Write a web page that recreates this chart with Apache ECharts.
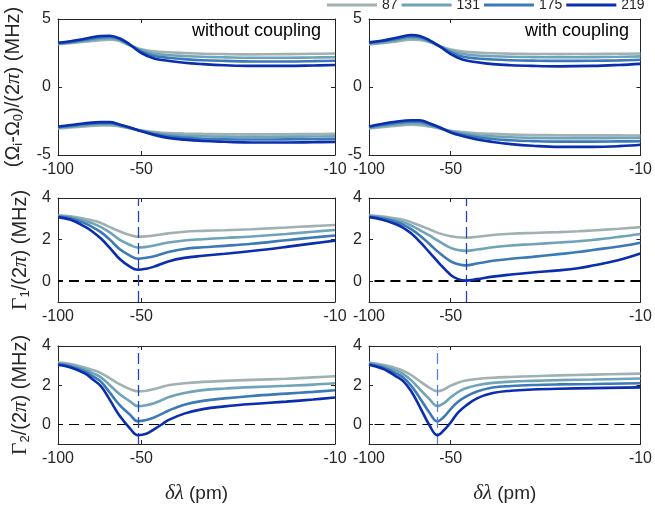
<!DOCTYPE html>
<html><head><meta charset="utf-8">
<script src="https://cdn.jsdelivr.net/npm/echarts@6/dist/echarts.min.js"></script>
<style>html,body{margin:0;padding:0;background:#fff}#c{width:655px;height:505px}</style>
</head><body><div id="c"></div>
<script>
// ---------- data ----------
const NAMES = ['87', '131', '175', '219'];
const COLORS = ['#9fb1b2', '#6ea3b9', '#3c79b7', '#0a2eae'];
const xTicks = [-100, -50, -10];

// Row 1: (Omega_i - Omega_0)/(2pi)
const dlOmega = [-100, -90, -80, -70, -65, -60, -55, -50, -45, -40, -35, -30, -25, -20, -15, -12, -10];
const upNoC_87  = [3.15, 3.22, 3.33, 3.45, 3.48, 3.38, 3.05, 2.78, 2.62, 2.55, 2.50, 2.45, 2.42, 2.40, 2.42, 2.44, 2.46];
const upNoC_131 = [3.18, 3.27, 3.40, 3.55, 3.58, 3.45, 3.08, 2.70, 2.45, 2.35, 2.28, 2.22, 2.18, 2.15, 2.15, 2.17, 2.19];
const upNoC_175 = [3.22, 3.32, 3.48, 3.65, 3.68, 3.52, 3.10, 2.60, 2.28, 2.15, 2.05, 1.97, 1.92, 1.88, 1.88, 1.90, 1.93];
const upNoC_219 = [3.25, 3.37, 3.55, 3.75, 3.77, 3.58, 3.12, 2.50, 2.10, 1.93, 1.78, 1.68, 1.60, 1.55, 1.55, 1.58, 1.62];
const loNoC_87  = [-3.05, -2.98, -2.90, -2.82, -2.82, -2.90, -3.05, -3.20, -3.30, -3.38, -3.42, -3.45, -3.47, -3.48, -3.47, -3.46, -3.45];
const loNoC_131 = [-3.00, -2.92, -2.82, -2.74, -2.74, -2.85, -3.02, -3.22, -3.38, -3.50, -3.57, -3.62, -3.65, -3.66, -3.65, -3.64, -3.63];
const loNoC_175 = [-2.95, -2.86, -2.74, -2.66, -2.66, -2.80, -3.00, -3.24, -3.45, -3.62, -3.72, -3.80, -3.84, -3.86, -3.85, -3.84, -3.83];
const loNoC_219 = [-2.90, -2.80, -2.67, -2.58, -2.58, -2.75, -2.98, -3.26, -3.52, -3.74, -3.87, -3.97, -4.03, -4.08, -4.08, -4.06, -4.04];

const upC_87  = [3.13, 3.22, 3.33, 3.48, 3.45, 3.30, 3.00, 2.75, 2.60, 2.53, 2.48, 2.45, 2.43, 2.42, 2.43, 2.44, 2.46];
const upC_131 = [3.18, 3.28, 3.42, 3.60, 3.55, 3.35, 3.00, 2.65, 2.42, 2.32, 2.26, 2.22, 2.20, 2.19, 2.20, 2.22, 2.25];
const upC_175 = [3.23, 3.34, 3.51, 3.72, 3.65, 3.40, 3.00, 2.55, 2.22, 2.10, 2.02, 1.97, 1.94, 1.92, 1.93, 1.96, 2.00];
const upC_219 = [3.28, 3.40, 3.60, 3.82, 3.75, 3.45, 3.00, 2.42, 2.00, 1.82, 1.68, 1.60, 1.55, 1.52, 1.55, 1.62, 1.70];
const loC_87  = [-3.05, -2.96, -2.86, -2.78, -2.80, -2.90, -3.05, -3.22, -3.32, -3.40, -3.45, -3.50, -3.53, -3.55, -3.56, -3.56, -3.57];
const loC_131 = [-3.00, -2.88, -2.76, -2.66, -2.68, -2.82, -3.02, -3.26, -3.42, -3.55, -3.63, -3.70, -3.74, -3.76, -3.76, -3.75, -3.74];
const loC_175 = [-2.95, -2.80, -2.66, -2.55, -2.56, -2.74, -2.99, -3.30, -3.52, -3.70, -3.82, -3.92, -3.98, -4.02, -4.02, -4.00, -3.99];
const loC_219 = [-2.90, -2.72, -2.56, -2.45, -2.45, -2.66, -2.96, -3.34, -3.62, -3.86, -4.04, -4.20, -4.32, -4.40, -4.40, -4.35, -4.25];

// Row 2: Gamma_1/(2pi)
const dlG1NoC = [-100, -90, -80, -75, -70, -65, -60, -55, -51.5, -48, -45, -40, -35, -30, -25, -20, -15, -12, -10];
const g1NoC_87  = [3.17, 3.12, 3.00, 2.92, 2.80, 2.60, 2.40, 2.22, 2.14, 2.16, 2.20, 2.30, 2.38, 2.42, 2.45, 2.50, 2.58, 2.65, 2.70];
const g1NoC_131 = [3.14, 3.07, 2.90, 2.78, 2.60, 2.35, 2.00, 1.75, 1.62, 1.65, 1.72, 1.86, 1.96, 2.02, 2.08, 2.15, 2.27, 2.38, 2.46];
const g1NoC_175 = [3.11, 3.02, 2.78, 2.60, 2.36, 2.00, 1.55, 1.23, 1.08, 1.13, 1.20, 1.40, 1.55, 1.63, 1.70, 1.80, 1.97, 2.10, 2.20];
const g1NoC_219 = [3.08, 2.95, 2.62, 2.38, 2.05, 1.60, 1.08, 0.70, 0.55, 0.60, 0.70, 0.95, 1.12, 1.22, 1.32, 1.45, 1.65, 1.82, 1.95];
const dlG1C = [-100, -90, -80, -75, -70, -65, -60, -55, -50, -47, -44, -40, -35, -30, -25, -20, -17, -15, -12, -10];
const g1C_87  = [3.17, 3.12, 3.02, 2.95, 2.83, 2.68, 2.50, 2.30, 2.16, 2.11, 2.09, 2.14, 2.22, 2.28, 2.32, 2.36, 2.40, 2.44, 2.52, 2.60];
const g1C_131 = [3.14, 3.07, 2.94, 2.84, 2.68, 2.46, 2.20, 1.90, 1.60, 1.50, 1.46, 1.52, 1.63, 1.72, 1.78, 1.86, 1.92, 1.98, 2.13, 2.27];
const g1C_175 = [3.11, 3.02, 2.86, 2.72, 2.50, 2.20, 1.80, 1.35, 0.95, 0.82, 0.76, 0.85, 0.98, 1.08, 1.17, 1.30, 1.40, 1.50, 1.67, 1.85];
const g1C_219 = [3.08, 2.97, 2.75, 2.58, 2.30, 1.90, 1.40, 0.85, 0.30, 0.10, 0.03, 0.10, 0.22, 0.32, 0.42, 0.52, 0.62, 0.75, 1.02, 1.33];

// Row 3: Gamma_2/(2pi)
const dlG2NoC = [-100, -90, -80, -75, -70, -65, -60, -55, -51.5, -48, -45, -42, -40, -35, -30, -25, -20, -15, -12, -10];
const g2NoC_87  = [3.15, 3.08, 2.90, 2.78, 2.62, 2.35, 2.05, 1.80, 1.69, 1.72, 1.80, 1.92, 2.00, 2.10, 2.17, 2.22, 2.27, 2.33, 2.40, 2.46];
const g2NoC_131 = [3.12, 3.02, 2.80, 2.62, 2.40, 2.00, 1.55, 1.18, 0.93, 0.98, 1.08, 1.25, 1.38, 1.60, 1.75, 1.83, 1.90, 1.97, 2.03, 2.10];
const g2NoC_175 = [3.08, 2.96, 2.70, 2.46, 2.18, 1.62, 1.00, 0.50, 0.16, 0.22, 0.35, 0.55, 0.70, 1.00, 1.20, 1.33, 1.45, 1.57, 1.66, 1.74];
const g2NoC_219 = [3.04, 2.90, 2.60, 2.30, 1.95, 1.25, 0.45, -0.20, -0.55, -0.48, -0.25, 0.02, 0.22, 0.55, 0.78, 0.92, 1.04, 1.16, 1.27, 1.37];
const dlG2C = [-100, -90, -85, -80, -75, -70, -65, -60, -56, -53, -50, -47, -44, -40, -35, -30, -25, -20, -15, -10];
const g2C_87  = [3.15, 3.06, 2.98, 2.88, 2.74, 2.52, 2.20, 1.88, 1.69, 1.78, 1.98, 2.13, 2.24, 2.32, 2.38, 2.42, 2.46, 2.50, 2.54, 2.59];
const g2C_131 = [3.12, 3.00, 2.89, 2.76, 2.58, 2.26, 1.80, 1.30, 0.93, 1.08, 1.38, 1.65, 1.84, 2.00, 2.12, 2.18, 2.22, 2.26, 2.29, 2.34];
const g2C_175 = [3.08, 2.93, 2.80, 2.62, 2.40, 1.98, 1.35, 0.62, 0.15, 0.38, 0.78, 1.15, 1.42, 1.68, 1.88, 1.96, 2.01, 2.04, 2.06, 2.10];
const g2C_219 = [3.04, 2.86, 2.70, 2.48, 2.22, 1.70, 0.90, -0.02, -0.55, -0.30, 0.10, 0.60, 0.95, 1.33, 1.60, 1.72, 1.78, 1.82, 1.85, 1.89];

// reference lines
const vLines = [null, null, -51.5, -44, -51.5, -56];   // per panel
const hLines = [null, null, 0, 0, 0, 0];

// ---------- build ----------
const lg = v => Math.log10(-v);  // coordinate of the log-scaled (|δλ|) axis
const FONT = 'Liberation Sans, Arial, sans-serif';
const TXT = '#262626';

const grids = [
  {left: 58, top: 19, width: 277, height: 136},
  {left: 369, top: 19, width: 277, height: 136},
  {left: 58, top: 198, width: 277, height: 104},
  {left: 369, top: 198, width: 277, height: 104},
  {left: 58, top: 346, width: 277, height: 102},
  {left: 369, top: 346, width: 277, height: 102}
];
const panels = [
  {x: dlOmega, ys: [upNoC_87, upNoC_131, upNoC_175, upNoC_219, loNoC_87, loNoC_131, loNoC_175, loNoC_219]},
  {x: dlOmega, ys: [upC_87, upC_131, upC_175, upC_219, loC_87, loC_131, loC_175, loC_219]},
  {x: dlG1NoC, ys: [g1NoC_87, g1NoC_131, g1NoC_175, g1NoC_219]},
  {x: dlG1C, ys: [g1C_87, g1C_131, g1C_175, g1C_219]},
  {x: dlG2NoC, ys: [g2NoC_87, g2NoC_131, g2NoC_175, g2NoC_219]},
  {x: dlG2C, ys: [g2C_87, g2C_131, g2C_175, g2C_219]}
];
const yNames = [
  '(Ω{s|i}-Ω{s|0})/(2{g|π}) (MHz)', '',
  '{G|Γ}{s|1}/(2{g|π}) (MHz)', '',
  '{G|Γ}{s|2}/(2{g|π}) (MHz)', ''
];
const yRanges = [[-5, 5, [-5, 0, 5]], [-5, 5, [-5, 0, 5]], [-1, 4, [0, 2, 4]], [-1, 4, [0, 2, 4]], [-1, 4, [0, 2, 4]], [-1, 4, [0, 2, 4]]];
const rich = {
  s: {fontSize: 13, fontFamily: FONT, color: TXT, padding: [11, 0, 0, 0]},
  g: {fontSize: 21, fontFamily: 'Liberation Serif, serif', fontStyle: 'italic', color: TXT},
  G: {fontSize: 22, fontFamily: 'Liberation Serif, serif', color: TXT}
};
const xTickVals = xTicks.map(lg);
const axLine = {show: true, onZero: false, lineStyle: {color: TXT, width: 1}};

const xAxis = [], yAxis = [], series = [];
grids.forEach((g, i) => {
  const bottomRow = i >= 4;
  xAxis.push({
    gridIndex: i, type: 'value', min: 1, max: 2, inverse: true, position: 'bottom',
    axisLine: axLine, splitLine: {show: false},
    axisTick: {inside: true, length: 4, customValues: xTickVals, lineStyle: {color: TXT}},
    axisLabel: {customValues: xTickVals, margin: 7, fontSize: 16, fontFamily: FONT, color: TXT,
      formatter: v => String(Math.round(-Math.pow(10, v)))},
    name: bottomRow ? '{g|δλ} (pm)' : '', nameLocation: 'middle', nameGap: 39,
    nameTextStyle: {fontSize: 19, fontFamily: FONT, color: TXT, rich: rich}
  });
  xAxis.push({
    gridIndex: i, type: 'value', min: 1, max: 2, inverse: true, position: 'top',
    axisLine: axLine, splitLine: {show: false},
    axisTick: {inside: true, length: 4, customValues: xTickVals, lineStyle: {color: TXT}},
    axisLabel: {show: false}
  });
  const yr = yRanges[i];
  yAxis.push({
    gridIndex: i, type: 'value', min: yr[0], max: yr[1], position: 'left',
    axisLine: axLine, splitLine: {show: false},
    axisTick: {inside: true, length: 4, customValues: yr[2], lineStyle: {color: TXT}},
    axisLabel: {customValues: yr[2], margin: 7, fontSize: 16, fontFamily: FONT, color: TXT},
    name: yNames[i], nameLocation: 'middle', nameGap: i === 0 ? 33 : 26,
    nameTextStyle: {fontSize: 20, fontFamily: FONT, color: TXT, rich: rich}
  });
  yAxis.push({
    gridIndex: i, type: 'value', min: yr[0], max: yr[1], position: 'right',
    axisLine: axLine, splitLine: {show: false},
    axisTick: {inside: true, length: 4, customValues: yr[2], lineStyle: {color: TXT}},
    axisLabel: {show: false}
  });

  const p = panels[i];
  p.ys.forEach((arr, k) => {
    const si = k % 4;
    series.push({
      type: 'line', name: NAMES[si], xAxisIndex: 2 * i, yAxisIndex: 2 * i,
      data: p.x.map((x, j) => [lg(x), arr[j]]),
      showSymbol: false, smooth: 0.4, color: COLORS[si],
      lineStyle: {width: 2.6, color: COLORS[si]}, z: 2 + si, silent: true
    });
  });
  // reference lines
  const ml = [];
  if (hLines[i] !== null) ml.push({yAxis: hLines[i], lineStyle: {type: [10, 6], width: i < 4 ? 2 : 1.2, color: '#000'}});
  if (vLines[i] !== null) ml.push({xAxis: lg(vLines[i]), lineStyle: {type: [11, 5], width: 1.3, color: i === 5 ? '#5b80d8' : '#2443b5'}});
  if (ml.length) {
    series.push({
      type: 'line', xAxisIndex: 2 * i, yAxisIndex: 2 * i, data: [], z: 10,
      markLine: {silent: true, symbol: ['none', 'none'], label: {show: false}, animation: false, data: ml}
    });
  }
});

const chart = echarts.init(document.getElementById('c'), null, {renderer: 'canvas'});
chart.setOption({
  animation: false,
  backgroundColor: '#fff',
  grid: grids,
  xAxis: xAxis,
  yAxis: yAxis,
  legend: {
    data: NAMES, left: 327, top: -2, padding: 0, itemGap: 4, itemWidth: 50, itemHeight: 3,
    icon: 'rect', textStyle: {fontSize: 14, fontFamily: FONT, color: TXT}
  },
  graphic: [
    {type: 'text', x: 321, y: 31, style: {text: 'without coupling', align: 'right', verticalAlign: 'middle', font: '18px Liberation Sans, Arial, sans-serif', fill: '#000'}},
    {type: 'text', x: 629, y: 31, style: {text: 'with coupling', align: 'right', verticalAlign: 'middle', font: '18px Liberation Sans, Arial, sans-serif', fill: '#000'}}
  ],
  series: series
});
</script></body></html>
